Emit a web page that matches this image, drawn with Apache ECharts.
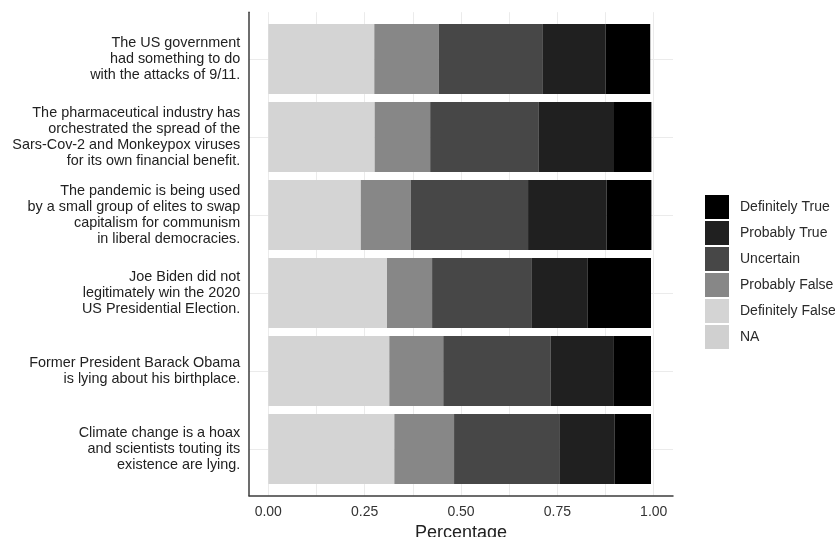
<!DOCTYPE html>
<html>
<head>
<meta charset="utf-8">
<script src="https://cdn.jsdelivr.net/npm/echarts@6/dist/echarts.min.js"></script>
<style>
html,body{margin:0;padding:0;background:#fff;}
#chart{width:835px;height:537px;}
</style>
</head>
<body>
<div id="chart"></div>
<script>
const categories = [
  "The US government\nhad something to do\nwith the attacks of 9/11.",
  "The pharmaceutical industry has\norchestrated the spread of the\nSars-Cov-2 and Monkeypox viruses\nfor its own financial benefit.",
  "The pandemic is being used\nby a small group of elites to swap\ncapitalism for communism\nin liberal democracies.",
  "Joe Biden did not\nlegitimately win the 2020\nUS Presidential Election.",
  "Former President Barack Obama\nis lying about his birthplace.",
  "Climate change is a hoax\nand scientists touting its\nexistence are lying."
];
const naVals      = [0, 0, 0, 0, 0, 0];
const defFalse    = [0.275, 0.276, 0.240, 0.308, 0.314, 0.327];
const probFalse   = [0.167, 0.144, 0.130, 0.117, 0.140, 0.155];
const uncertain   = [0.269, 0.282, 0.304, 0.259, 0.279, 0.273];
const probTrue    = [0.164, 0.195, 0.204, 0.145, 0.162, 0.143];
const defTrue     = [0.116, 0.097, 0.116, 0.164, 0.098, 0.095];
const xTickLabels = [0, 0.25, 0.5, 0.75, 1];
const xGridValues = [0, 0.125, 0.25, 0.375, 0.5, 0.625, 0.75, 0.875, 1];
const catPositions = [1, 2, 3, 4, 5, 6];

const seriesDefs = [
  {name: 'NA', data: naVals, color: '#d0d0d0'},
  {name: 'Definitely False', data: defFalse, color: '#d4d4d4'},
  {name: 'Probably False', data: probFalse, color: '#878787'},
  {name: 'Uncertain', data: uncertain, color: '#474747'},
  {name: 'Probably True', data: probTrue, color: '#202020'},
  {name: 'Definitely True', data: defTrue, color: '#000000'}
];

const FONT = 'Liberation Sans, Arial, sans-serif';
const chart = echarts.init(document.getElementById('chart'), null, {renderer: 'canvas'});

const option = {
  animation: false,
  backgroundColor: '#ffffff',
  textStyle: {fontFamily: FONT},
  grid: [
    {left: 268.3, top: 20, width: 385.4, height: 468, containLabel: false, outerBoundsMode: 'none'},
    {left: 249, top: 12.2, width: 424, height: 483.6, containLabel: false, outerBoundsMode: 'none'}
  ],
  legend: {
    orient: 'vertical',
    left: 700,
    top: 190,
    itemWidth: 24,
    itemHeight: 24,
    itemGap: 2,
    icon: 'rect',
    data: ['Definitely True', 'Probably True', 'Uncertain', 'Probably False', 'Definitely False', 'NA'],
    textStyle: {fontFamily: FONT, fontSize: 14, color: '#2a2a2a', padding: [0, 0, 0, 6]},
    selectedMode: false
  },
  xAxis: [
    {
      type: 'value', gridIndex: 0, min: 0, max: 1, show: false
    },
    {
      type: 'value', gridIndex: 1, min: -0.05, max: 1.05,
      axisLine: {show: true, onZero: false, lineStyle: {color: '#3c3c3c', width: 1.5}},
      axisTick: {show: false, customValues: xGridValues},
      splitLine: {show: true, lineStyle: {color: '#ebebeb', width: 1}},
      axisLabel: {
        customValues: xTickLabels,
        formatter: v => Number(v).toFixed(2),
        fontFamily: FONT, fontSize: 14, color: '#333', margin: 9
      },
      name: 'Percentage',
      nameLocation: 'middle',
      nameGap: 26,
      nameTextStyle: {fontFamily: FONT, fontSize: 18, color: '#222'}
    }
  ],
  yAxis: [
    {
      type: 'category', gridIndex: 0, data: categories, inverse: true,
      axisLine: {show: false}, axisTick: {show: false}, splitLine: {show: false},
      axisLabel: {fontFamily: FONT, fontSize: 14.4, lineHeight: 15.7, color: '#222', margin: 28, align: 'right'}
    },
    {
      type: 'value', gridIndex: 1, min: 0.4, max: 6.6, inverse: true,
      axisLine: {show: true, onZero: false, lineStyle: {color: '#3c3c3c', width: 1.5}},
      axisTick: {show: false, customValues: catPositions},
      axisLabel: {show: false},
      splitLine: {show: true, lineStyle: {color: '#ebebeb', width: 1}}
    }
  ],
  series: seriesDefs.map(s => ({
    name: s.name,
    type: 'bar',
    stack: 'total',
    xAxisIndex: 0,
    yAxisIndex: 0,
    barWidth: '90%',
    data: s.data,
    itemStyle: {color: s.color},
    emphasis: {disabled: true},
    z: 3
  }))
};
chart.setOption(option);
</script>
</body>
</html>
